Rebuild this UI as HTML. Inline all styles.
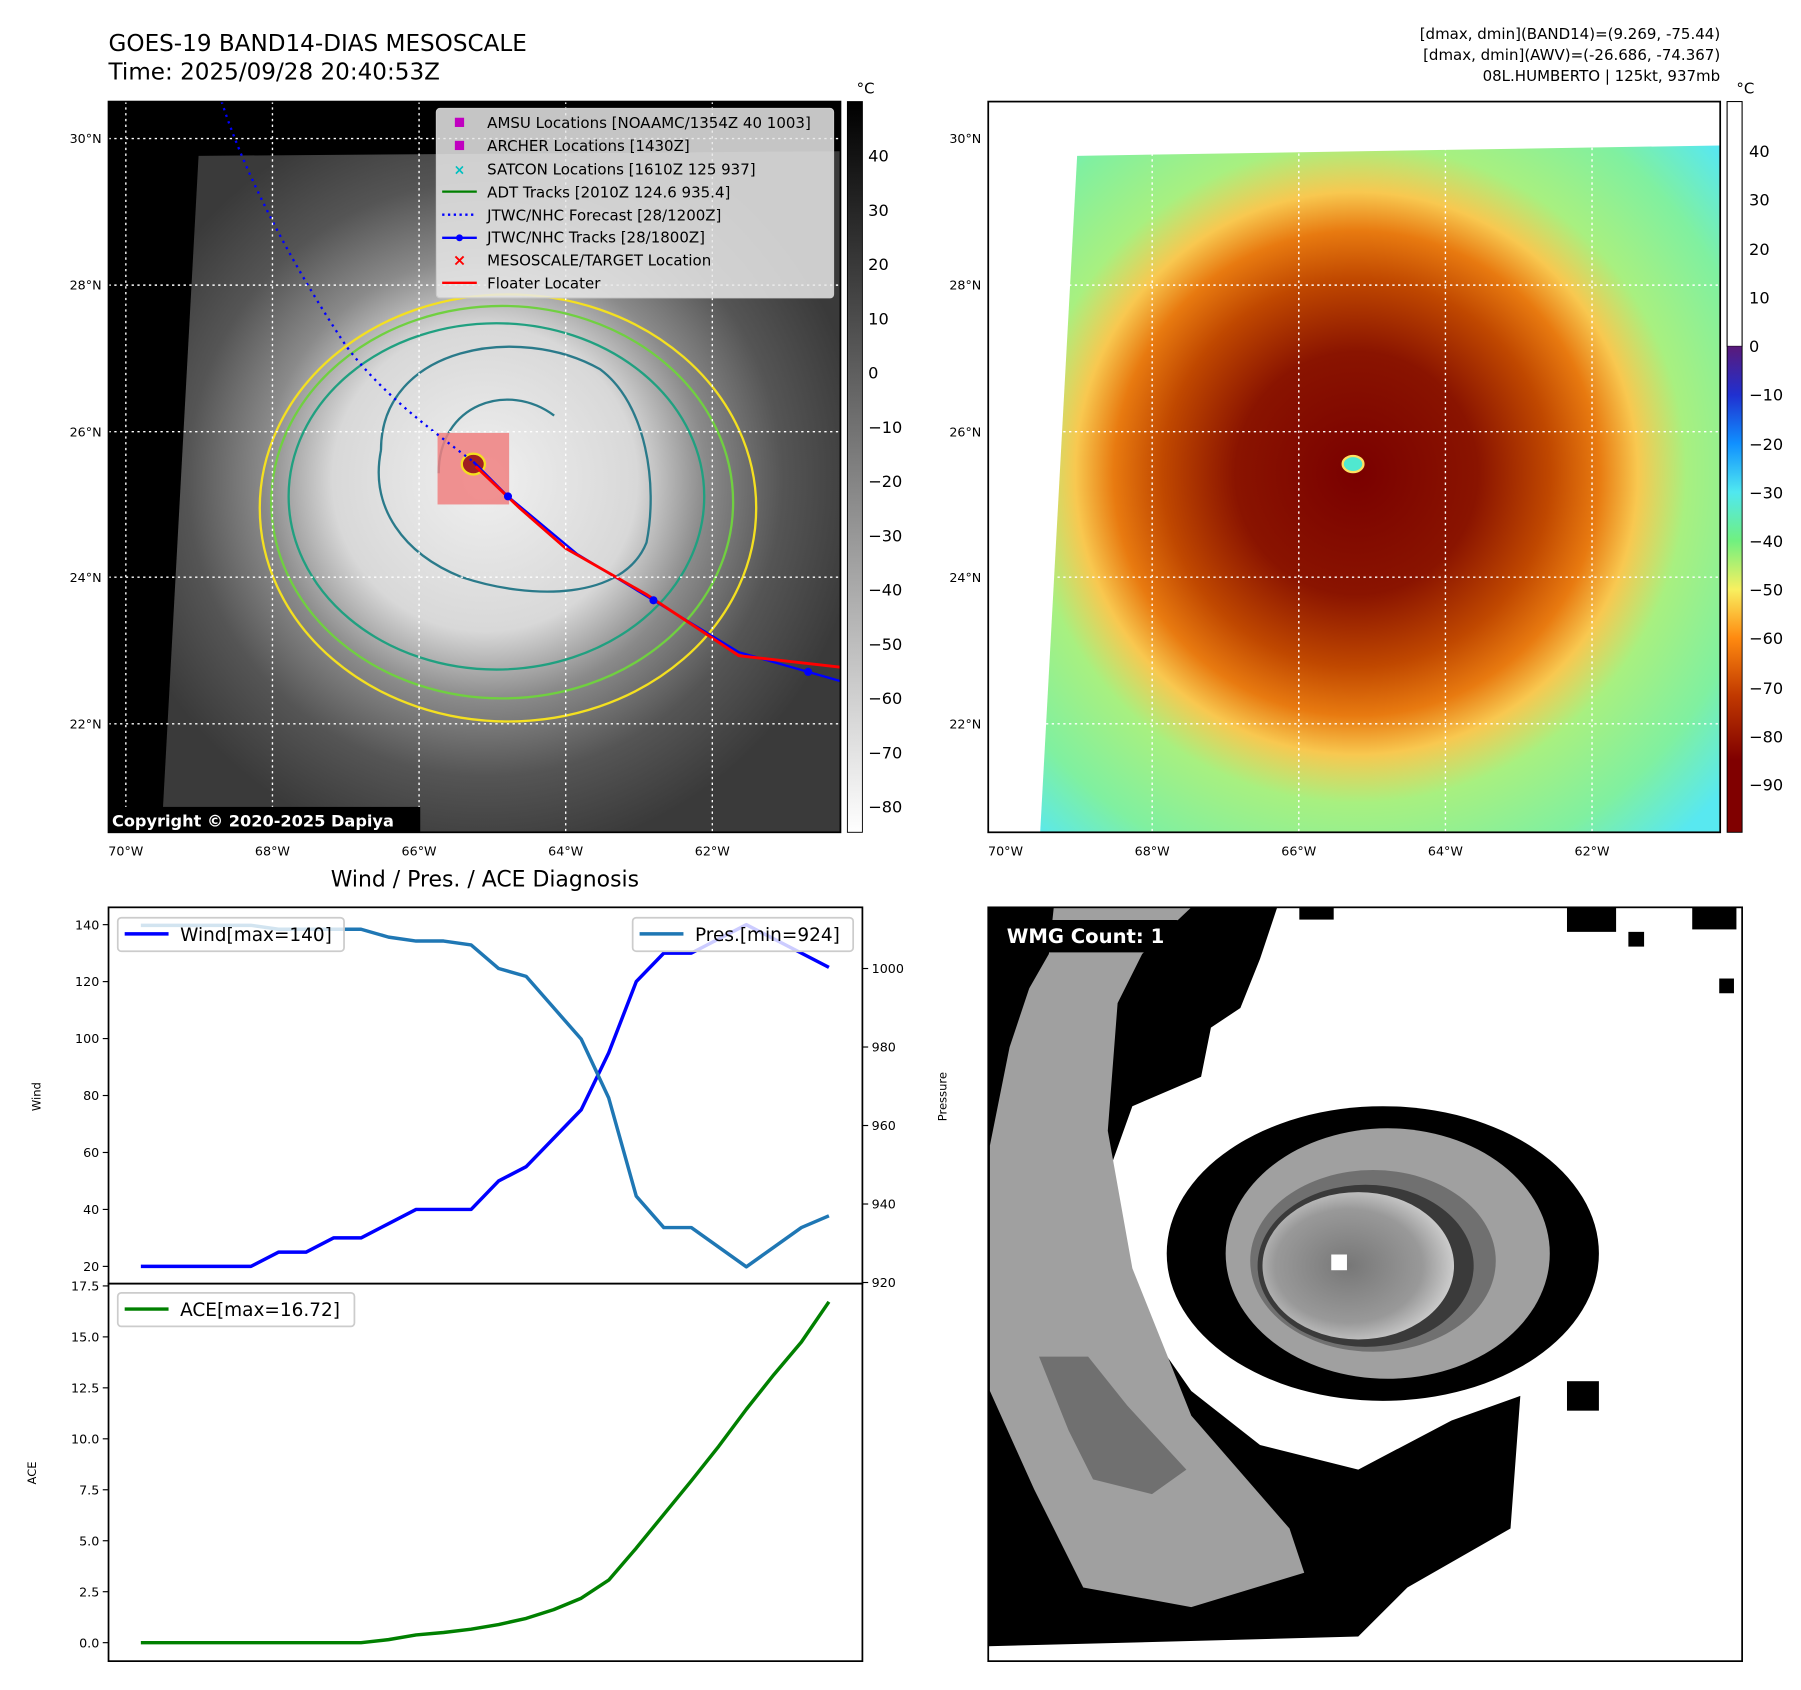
<!DOCTYPE html>
<html><head><meta charset="utf-8"><style>
html,body{margin:0;padding:0;background:#fff}
svg{display:block;font-family:"DejaVu Sans","Liberation Sans",sans-serif}
</style></head><body>
<svg id="root" width="1801" height="1690" viewBox="0 0 1560 1464" preserveAspectRatio="none" xmlns="http://www.w3.org/2000/svg">
<defs>
<radialGradient id="irGray" cx="420" cy="415" r="330" gradientUnits="userSpaceOnUse">
<stop offset="0" stop-color="#f0f0f0"/><stop offset="0.4" stop-color="#d8d8d8"/><stop offset="0.58" stop-color="#8a8a8a"/><stop offset="0.78" stop-color="#555"/><stop offset="1" stop-color="#3a3a3a"/></radialGradient>
<radialGradient id="irColor" cx="1175" cy="410" r="420" gradientUnits="userSpaceOnUse">
<stop offset="0" stop-color="#7a0000"/><stop offset="0.25" stop-color="#8a1400"/><stop offset="0.4" stop-color="#c04800"/><stop offset="0.5" stop-color="#e87a10"/><stop offset="0.58" stop-color="#f8c850"/><stop offset="0.68" stop-color="#a8f080"/><stop offset="0.85" stop-color="#80f0a0"/><stop offset="1" stop-color="#58e8f0"/></radialGradient>
<linearGradient id="cbGray" x1="0" y1="0" x2="0" y2="1"><stop offset="0" stop-color="#000"/><stop offset="1" stop-color="#fff"/></linearGradient>
<linearGradient id="cbJet" x1="0" y1="300" x2="0" y2="721" gradientUnits="userSpaceOnUse">
<stop offset="0" stop-color="#5a1a7a"/><stop offset="0.1" stop-color="#2030d0"/><stop offset="0.2" stop-color="#1090ff"/><stop offset="0.3" stop-color="#50e8f0"/><stop offset="0.4" stop-color="#70f080"/><stop offset="0.5" stop-color="#f8f060"/><stop offset="0.6" stop-color="#ff8a10"/><stop offset="0.72" stop-color="#c03800"/><stop offset="0.85" stop-color="#800000"/><stop offset="1" stop-color="#800000"/></linearGradient>
<radialGradient id="eyeGray" cx="0.45" cy="0.5" r="0.55"><stop offset="0" stop-color="#777"/><stop offset="0.7" stop-color="#999"/><stop offset="1" stop-color="#ccc"/></radialGradient>
<clipPath id="clipL"><rect x="94" y="88" width="634" height="633"/></clipPath>
<clipPath id="clipW"><rect x="856" y="786" width="653" height="653"/></clipPath>
</defs>

<text x="94" y="44" font-size="20">GOES-19 BAND14-DIAS MESOSCALE</text>
<text x="94" y="69" font-size="20">Time: 2025/09/28 20:40:53Z</text>
<g font-size="13" text-anchor="end">
<text x="1490" y="34">[dmax, dmin](BAND14)=(9.269, -75.44)</text>
<text x="1490" y="52">[dmax, dmin](AWV)=(-26.686, -74.367)</text>
<text x="1490" y="70">08L.HUMBERTO | 125kt, 937mb</text>
</g>

<g clip-path="url(#clipL)">
<rect x="94" y="88" width="634" height="633" fill="#000"/>
<polygon points="172,135 728,131 728,721 140,721" fill="url(#irGray)"/>
<g fill="none" stroke-width="2">
<ellipse cx="440" cy="440" rx="215" ry="185" stroke="#f4e020"/>
<ellipse cx="435" cy="435" rx="200" ry="170" stroke="#70d040"/>
<ellipse cx="430" cy="430" rx="180" ry="150" stroke="#20a080"/>
<path d="M330,390 C330,300 450,280 520,320 C560,350 570,420 560,470 C540,520 460,520 400,500 C350,480 320,440 330,390" stroke="#2a7a8a"/>
<path d="M380,410 C380,350 440,330 480,360" stroke="#2a7a8a"/>
</g>
<rect x="379" y="375" width="62" height="62" fill="#f08080" opacity="0.85"/>
<ellipse cx="410" cy="402" rx="10" ry="9" fill="#a02020" stroke="#f4e020" stroke-width="2"/>
<path d="M192,88 C215,160 260,240 300,300 C330,340 370,370 410,400" fill="none" stroke="#00f" stroke-width="2" stroke-dasharray="2,4"/>
<path d="M410,400 L440,430 L500,480 L566,520 L640,565 L700,582 L728,590" fill="none" stroke="#00f" stroke-width="2"/>
<path d="M412,404 L450,440 L490,475 L560,515 L640,568 L728,578" fill="none" stroke="#f00" stroke-width="2.5"/>
<g fill="#00f"><circle cx="440" cy="430" r="3.5"/><circle cx="566" cy="520" r="3.5"/><circle cx="700" cy="582" r="3.5"/></g>
<g stroke="#fff" stroke-width="1.2" stroke-dasharray="2,3">
<line x1="109" y1="88" x2="109" y2="721"/><line x1="236" y1="88" x2="236" y2="721"/><line x1="363" y1="88" x2="363" y2="721"/><line x1="490" y1="88" x2="490" y2="721"/><line x1="617" y1="88" x2="617" y2="721"/>
<line x1="94" y1="120" x2="728" y2="120"/><line x1="94" y1="247" x2="728" y2="247"/><line x1="94" y1="374" x2="728" y2="374"/><line x1="94" y1="500" x2="728" y2="500"/><line x1="94" y1="627" x2="728" y2="627"/>
</g>
<rect x="94" y="699" width="270" height="22" fill="#000"/>
<text x="97" y="716" font-size="14" font-weight="bold" fill="#fff">Copyright © 2020-2025 Dapiya</text>
</g>
<rect x="94" y="88" width="634" height="633" fill="none" stroke="#000" stroke-width="1.5"/>
<g font-size="13">
<rect x="378" y="94" width="344" height="164" rx="3" fill="#e8e8e8" fill-opacity="0.85" stroke="#ccc"/>
<rect x="394" y="102" width="8" height="8" fill="#c000c0"/><text x="422" y="111">AMSU Locations [NOAAMC/1354Z 40 1003]</text>
<rect x="394" y="122" width="8" height="8" fill="#c000c0"/><text x="422" y="131">ARCHER Locations [1430Z]</text>
<text x="398" y="151" fill="#00c0c0" text-anchor="middle" font-size="12" font-weight="bold">×</text><text x="422" y="151">SATCON Locations [1610Z 125 937]</text>
<line x1="383" y1="166" x2="413" y2="166" stroke="#008000" stroke-width="2"/><text x="422" y="171">ADT Tracks [2010Z 124.6 935.4]</text>
<line x1="383" y1="186" x2="413" y2="186" stroke="#00f" stroke-width="2" stroke-dasharray="2,3"/><text x="422" y="191">JTWC/NHC Forecast [28/1200Z]</text>
<line x1="383" y1="206" x2="413" y2="206" stroke="#00f" stroke-width="2"/><circle cx="398" cy="206" r="3" fill="#00f"/><text x="422" y="210">JTWC/NHC Tracks [28/1800Z]</text>
<text x="398" y="230" fill="#f00" text-anchor="middle" font-size="14" font-weight="bold">×</text><text x="422" y="230">MESOSCALE/TARGET Location</text>
<line x1="383" y1="245" x2="413" y2="245" stroke="#f00" stroke-width="2"/><text x="422" y="250">Floater Locater</text>
</g>
<rect x="734" y="88" width="13" height="633" fill="url(#cbGray)" stroke="#000" stroke-width="0.8"/>
<text x="742" y="81" font-size="13">°C</text>
<g font-size="14">
<text x="752" y="140">40</text><text x="752" y="187">30</text><text x="752" y="234">20</text><text x="752" y="281">10</text><text x="752" y="328">0</text><text x="752" y="375">−10</text><text x="752" y="422">−20</text><text x="752" y="469">−30</text><text x="752" y="516">−40</text><text x="752" y="563">−50</text><text x="752" y="610">−60</text><text x="752" y="657">−70</text><text x="752" y="704">−80</text>
</g>
<g font-size="11">
<text x="88" y="124" text-anchor="end">30°N</text><text x="88" y="251" text-anchor="end">28°N</text><text x="88" y="378" text-anchor="end">26°N</text><text x="88" y="504" text-anchor="end">24°N</text><text x="88" y="631" text-anchor="end">22°N</text>
<text x="109" y="741" text-anchor="middle">70°W</text><text x="236" y="741" text-anchor="middle">68°W</text><text x="363" y="741" text-anchor="middle">66°W</text><text x="490" y="741" text-anchor="middle">64°W</text><text x="617" y="741" text-anchor="middle">62°W</text>
</g>

<g>
<polygon points="933,135 1490,126 1490,721 901,721" fill="url(#irColor)"/>
<ellipse cx="1172" cy="402" rx="9" ry="7" fill="#50e8d0" stroke="#ffe060" stroke-width="2"/>
<g stroke="#fff" stroke-width="1.2" stroke-dasharray="2,3">
<line x1="998" y1="88" x2="998" y2="721"/><line x1="1125" y1="88" x2="1125" y2="721"/><line x1="1252" y1="88" x2="1252" y2="721"/><line x1="1379" y1="88" x2="1379" y2="721"/>
<line x1="856" y1="247" x2="1490" y2="247"/><line x1="856" y1="374" x2="1490" y2="374"/><line x1="856" y1="500" x2="1490" y2="500"/><line x1="856" y1="627" x2="1490" y2="627"/>
</g>
<rect x="856" y="88" width="634" height="633" fill="none" stroke="#000" stroke-width="1.5"/>
</g>
<rect x="1496" y="88" width="13" height="212" fill="#fff" stroke="#000" stroke-width="0.8"/>
<rect x="1496" y="300" width="13" height="421" fill="url(#cbJet)"/>
<rect x="1496" y="88" width="13" height="633" fill="none" stroke="#000" stroke-width="0.8"/>
<text x="1504" y="81" font-size="13">°C</text>
<g font-size="14">
<text x="1515" y="136">40</text><text x="1515" y="178">30</text><text x="1515" y="221">20</text><text x="1515" y="263">10</text><text x="1515" y="305">0</text><text x="1515" y="347">−10</text><text x="1515" y="390">−20</text><text x="1515" y="432">−30</text><text x="1515" y="474">−40</text><text x="1515" y="516">−50</text><text x="1515" y="558">−60</text><text x="1515" y="601">−70</text><text x="1515" y="643">−80</text><text x="1515" y="685">−90</text>
</g>
<g font-size="11">
<text x="850" y="124" text-anchor="end">30°N</text><text x="850" y="251" text-anchor="end">28°N</text><text x="850" y="378" text-anchor="end">26°N</text><text x="850" y="504" text-anchor="end">24°N</text><text x="850" y="631" text-anchor="end">22°N</text>
<text x="871" y="741" text-anchor="middle">70°W</text><text x="998" y="741" text-anchor="middle">68°W</text><text x="1125" y="741" text-anchor="middle">66°W</text><text x="1252" y="741" text-anchor="middle">64°W</text><text x="1379" y="741" text-anchor="middle">62°W</text>
</g>

<g clip-path="url(#clipW)">
<rect x="856" y="786" width="653" height="653" fill="#fff"/>
<g transform="translate(853.2,779.6) scale(0.4254)">
<polygon points="0,0 600,0 560,120 520,220 460,260 440,360 300,420 250,560 280,800 420,1000 560,1110 760,1160 950,1060 1090,1010 1070,1280 860,1400 760,1500 0,1520" fill="#000"/>
<polygon points="140,15 420,15 320,110 270,210 250,470 300,750 420,1050 620,1280 650,1370 420,1440 200,1400 100,1200 10,1000 10,500 50,300 90,180 130,110" fill="#a0a0a0"/>
<polygon points="110,930 210,930 290,1030 410,1160 340,1210 220,1180 170,1080" fill="#707070"/>
<ellipse cx="810" cy="720" rx="440" ry="300" fill="#000"/>
<ellipse cx="820" cy="720" rx="330" ry="255" fill="#a0a0a0"/>
<ellipse cx="790" cy="735" rx="250" ry="185" fill="#707070"/>
<ellipse cx="775" cy="745" rx="220" ry="165" fill="#3a3a3a"/>
<ellipse cx="760" cy="745" rx="195" ry="150" fill="url(#eyeGray)"/>
<rect x="705" y="722" width="32" height="32" fill="#fff"/>
<rect x="1185" y="10" width="100" height="55" fill="#000"/><rect x="1440" y="10" width="90" height="50" fill="#000"/><rect x="1310" y="65" width="32" height="30" fill="#000"/><rect x="1495" y="160" width="30" height="30" fill="#000"/><rect x="640" y="10" width="70" height="30" fill="#000"/><rect x="1185" y="980" width="65" height="60" fill="#000"/>
</g>
<rect x="862" y="797" width="160" height="28" rx="3" fill="#000"/>
<text x="872" y="817" font-size="17" font-weight="bold" fill="#fff">WMG Count: 1</text>
</g>
<rect x="856" y="786" width="653" height="653" fill="none" stroke="#000" stroke-width="1.5"/>

<text x="420" y="768" font-size="19" text-anchor="middle">Wind / Pres. / ACE Diagnosis</text>
<g id="chart"></g>
</svg>
<script>
const windValues = [20,20,20,20,20,25,25,30,30,35,40,40,40,50,55,65,75,95,120,130,130,135,140,135,130,125];
const presValues = [1011,1011,1011,1011,1011,1010,1010,1010,1010,1008,1007,1007,1006,1000,998,990,982,967,942,934,934,929,924,929,934,937];
const aceValues = [0,0,0,0,0,0,0,0,0,0.15,0.38,0.5,0.66,0.89,1.19,1.62,2.18,3.07,4.64,6.29,7.94,9.64,11.45,13.15,14.75,16.72];
const windTicks = [20,40,60,80,100,120,140];
const presTicks = [920,940,960,980,1000];
const aceTicks = [0,2.5,5,7.5,10,12.5,15,17.5];

const NS = 'http://www.w3.org/2000/svg';
const g = document.getElementById('chart');
const xS = i => 122 + i * (596 / (windValues.length - 1));
const yWind = v => 801 + (140 - v) * 2.467;
const yPres = p => 839 + (1000 - p) * 3.4;
const yAce = v => 1423 - v * 17.66;
function mk(tag, attrs, parent) {
  const e = document.createElementNS(NS, tag);
  for (const k in attrs) e.setAttribute(k, attrs[k]);
  (parent || g).appendChild(e);
  return e;
}
function txt(x, y, s, size, anchor) {
  const t = mk('text', {x: x, y: y, 'font-size': size, 'text-anchor': anchor || 'start'});
  t.textContent = s;
  return t;
}
const f1 = mk('rect', {x: 94, y: 786, width: 653, height: 326, fill: 'none', stroke: '#000', 'stroke-width': 1.5});


const f2 = mk('rect', {x: 94, y: 1112, width: 653, height: 327, fill: 'none', stroke: '#000', 'stroke-width': 1.5});


windTicks.forEach(v => { const y = yWind(v); mk('line', {x1: 89, y1: y, x2: 94, y2: y, stroke: '#000'}); const t = txt(86, y + 4, v, 11, 'end');   });
presTicks.forEach(v => { const y = yPres(v); mk('line', {x1: 747, y1: y, x2: 752, y2: y, stroke: '#000'}); const t = txt(755, y + 4, v, 11);   });
aceTicks.forEach(v => { const y = yAce(v); mk('line', {x1: 89, y1: y, x2: 94, y2: y, stroke: '#000'}); const t = txt(86, y + 4, v.toFixed(1), 11, 'end');   });
const yl1 = txt(0, 0, 'Wind', 10, 'middle'); yl1.setAttribute('transform', 'translate(35,950) rotate(-90)');


const yl2 = txt(0, 0, 'Pressure', 10, 'middle'); yl2.setAttribute('transform', 'translate(820,950) rotate(-90)');


const yl3 = txt(0, 0, 'ACE', 10, 'middle'); yl3.setAttribute('transform', 'translate(31,1276) rotate(-90)');


function line(vals, yf, color, name) {
  const p = mk('polyline', {points: vals.map((v, i) => xS(i) + ',' + yf(v)).join(' '), fill: 'none', stroke: color, 'stroke-width': 3, 'stroke-linejoin': 'round'});
  
  
}
line(windValues, yWind, '#0000ff', 'wind-line');
line(presValues, yPres, '#1f77b4', 'pressure-line');
line(aceValues, yAce, '#008000', 'ace-line');
function legend(x, y, w, color, label, name) {
  const lg = mk('g', {});
  
  
  mk('rect', {x: x, y: y, width: w, height: 29, rx: 3, fill: '#fff', 'fill-opacity': 0.8, stroke: '#ccc', 'stroke-width': 1.5}, lg);
  mk('line', {x1: x + 6, y1: y + 14, x2: x + 44, y2: y + 14, stroke: color, 'stroke-width': 3}, lg);
  const t = mk('text', {x: x + 54, y: y + 20, 'font-size': 16}, lg);
  t.textContent = label;
}
legend(102, 795, 196, '#0000ff', 'Wind[max=' + Math.max(...windValues) + ']', 'wind-legend');
legend(548, 795, 191, '#1f77b4', 'Pres.[min=' + Math.min(...presValues) + ']', 'pressure-legend');
legend(102, 1120, 205, '#008000', 'ACE[max=' + Math.max(...aceValues).toFixed(2) + ']', 'ace-legend');
</script>
</body></html>
